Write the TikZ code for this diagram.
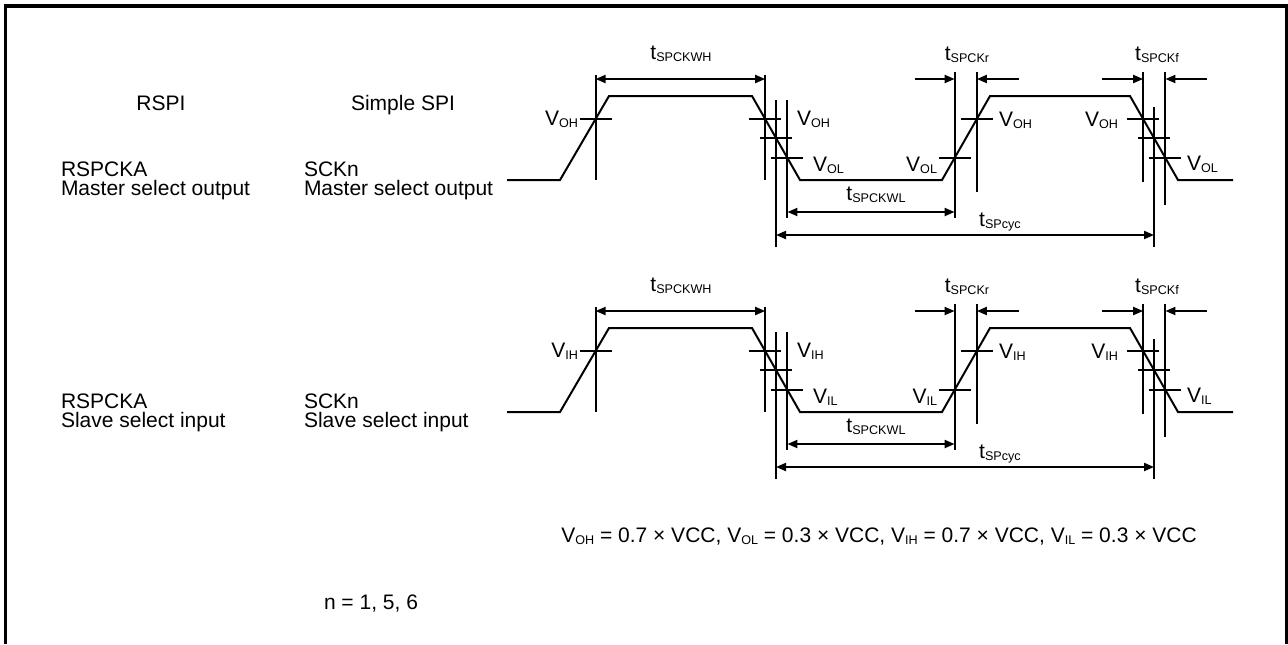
\documentclass[tikz,border=0pt]{standalone}
\usepackage{fontspec}
\setmainfont{Liberation Sans}
\usetikzlibrary{arrows.meta,calc}
% lowered small index, as in V_OH or t_SPCKWH
\newcommand{\lo}[1]{\raisebox{-1.2pt}{\fontsize{6.3}{7}\selectfont #1}}

\begin{document}
\begin{tikzpicture}[x=0.5pt,y=-0.5pt,line width=1pt,
  dim/.style={{Triangle[length=5pt,width=4pt]}-{Triangle[length=5pt,width=4pt]}},
  pin/.style={-{Triangle[length=5pt,width=4pt]}},
  lbl/.style={inner sep=0pt,font=\fontsize{10.5}{12.6}\selectfont}]
\useasboundingbox (0,0) rectangle (1288,644);
\draw[line width=1.6pt] (5.5,644) -- (5.5,6) -- (1286.5,6) -- (1286.5,644);

\node[lbl,anchor=base] (rspi) at (161,110) {RSPI};
\node[lbl,anchor=base] (sspi) at (403,110) {Simple SPI};

\foreach \dy/\H/\L/\role in {0/OH/OL/Master select output,232/IH/IL/Slave select input}{
\begin{scope}[shift={(0,\dy)}]
\node[lbl,anchor=base west] (pina\dy) at (60,176) {RSPCKA};
\node[lbl,anchor=base west] (rolea\dy) at (60,195) {\role};
\node[lbl,anchor=base west] (pinb\dy) at (303,176) {SCKn};
\node[lbl,anchor=base west] (roleb\dy) at (303,195) {\role};
% clock waveform
\coordinate (s0) at (507,180);
\coordinate (r1a) at (560,180);
\coordinate (r1b) at (609,96);
\coordinate (f1a) at (752,96);
\coordinate (f1b) at (800,180);
\coordinate (r2a) at (942,180);
\coordinate (r2b) at (990,96);
\coordinate (f2a) at (1130,96);
\coordinate (f2b) at (1178,180);
\coordinate (s1) at (1233,180);
\draw (s0) -- (r1a) -- (r1b) -- (f1a) -- (f1b) -- (r2a) -- (r2b) -- (f2a) -- (f2b) -- (s1);
% level crossings
\coordinate (r1h) at ($(r1a)!0.726!(r1b)$);
\coordinate (f1h) at ($(f1a)!0.274!(f1b)$);
\coordinate (f1m) at ($(f1a)!0.5!(f1b)$);
\coordinate (f1l) at ($(f1a)!0.738!(f1b)$);
\coordinate (r2l) at ($(r2a)!0.262!(r2b)$);
\coordinate (r2h) at ($(r2a)!0.726!(r2b)$);
\coordinate (f2h) at ($(f2a)!0.274!(f2b)$);
\coordinate (f2m) at ($(f2a)!0.5!(f2b)$);
\coordinate (f2l) at ($(f2a)!0.738!(f2b)$);
\foreach \c in {r1h,f1h,f1m,f1l,r2l,r2h,f2h,f2m,f2l}
  \draw ($(\c)+(-16,0)$) -- ($(\c)+(16,0)$);
\foreach \c/\ya/\yb in {r1h/75/180,f1h/75/180,f1m/100/247,f1l/100/218,r2l/72/218,r2h/72/192,f2h/72/182,f2m/107/247,f2l/72/205}
  \draw (\c |- 0,\ya) -- (\c |- 0,\yb);
% timing arrows
\draw[dim] (r1h |- 0,79) -- (f1h |- 0,79);
\draw[dim] (f1l |- 0,212) -- (r2l |- 0,212);
\draw[dim] (f1m |- 0,235) -- (f2m |- 0,235);
\coordinate (kr1) at (915,79);
\coordinate (kr2) at (1019,79);
\coordinate (kf1) at (1102,79);
\coordinate (kf2) at (1207,79);
\draw[pin] (kr1) -- (r2l |- kr1);
\draw[pin] (kr2) -- (r2h |- kr2);
\draw[pin] (kf1) -- (f2h |- kf1);
\draw[pin] (kf2) -- (f2l |- kf2);
\node[lbl,anchor=base] (twh\dy) at (681,59) {t\lo{SPCKWH}};
\node[lbl,anchor=base] (twl\dy) at (876,200) {t\lo{SPCKWL}};
\node[lbl,anchor=base] (tcyc\dy) at (1000,226) {t\lo{SPcyc}};
\node[lbl,anchor=base] (tr\dy) at (967,60) {t\lo{SPCKr}};
\node[lbl,anchor=base] (tf\dy) at (1157,60) {t\lo{SPCKf}};
\node[lbl,anchor=base east] (va\dy) at (579,125) {V\lo{\H}};
\node[lbl,anchor=base west] (vb\dy) at (796,125) {V\lo{\H}};
\node[lbl,anchor=base west] (vc\dy) at (812,171) {V\lo{\L}};
\node[lbl,anchor=base east] (vd\dy) at (938,171) {V\lo{\L}};
\node[lbl,anchor=base west] (ve\dy) at (998,126) {V\lo{\H}};
\node[lbl,anchor=base east] (vf\dy) at (1119,126) {V\lo{\H}};
\node[lbl,anchor=base west] (vg\dy) at (1186,170) {V\lo{\L}};
\end{scope}
}

\node[lbl,anchor=base] (vdef) at (879,542) {V\lo{OH} = 0.7 × VCC, V\lo{OL} = 0.3 × VCC, V\lo{IH} = 0.7 × VCC, V\lo{IL} = 0.3 × VCC};
\node[lbl,anchor=base west] (nlist) at (323,609) {n = 1, 5, 6};
\end{tikzpicture}
\end{document}
